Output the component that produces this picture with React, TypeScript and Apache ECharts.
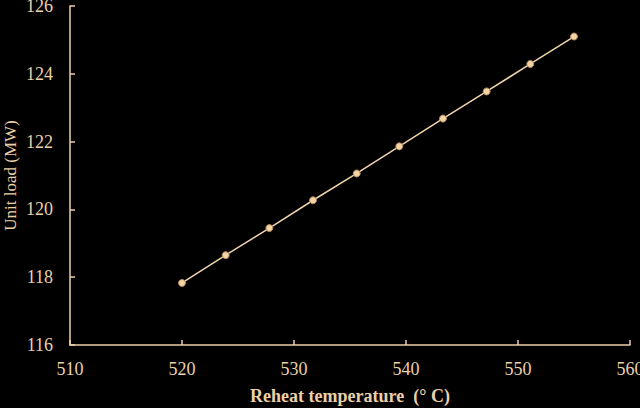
import React, { useEffect, useRef } from "react";
import * as echarts from "echarts";

const reheatTemps = [520, 523.9, 527.8, 531.7, 535.6, 539.4, 543.3, 547.2, 551.1, 555];
const unitLoads = [117.83, 118.65, 119.45, 120.27, 121.06, 121.86, 122.68, 123.48, 124.29, 125.1];
const xTicks = [510, 520, 530, 540, 550, 560];
const yTicks = [116, 118, 120, 122, 124, 126];

const FG = "#ecd0a8";
const FONT = "'Liberation Serif', 'Times New Roman', serif";

export default function App() {
  const ref = useRef<HTMLDivElement>(null);
  useEffect(() => {
    if (!ref.current) return;
    const chart = echarts.init(ref.current, undefined, { renderer: "svg" });
    chart.setOption({
      animation: false,
      backgroundColor: "#000000",
      grid: { left: 70, right: 10, top: 6, bottom: 63, containLabel: false, outerBoundsMode: "none" },
      xAxis: {
        type: "value",
        min: xTicks[0],
        max: xTicks[xTicks.length - 1],
        interval: 10,
        name: "Reheat temperature  (° C)",
        nameLocation: "middle",
        nameGap: 42,
        nameMoveOverlap: false,
        nameTextStyle: { color: FG, fontFamily: FONT, fontSize: 18, fontWeight: "bold" },
        axisLine: { show: true, lineStyle: { color: FG, width: 1.5 } },
        axisTick: { show: true, inside: true, length: 5, lineStyle: { color: FG, width: 1.5 } },
        axisLabel: { color: FG, fontFamily: FONT, fontSize: 18, margin: 15 },
        splitLine: { show: false },
      },
      yAxis: {
        type: "value",
        min: yTicks[0],
        max: yTicks[yTicks.length - 1],
        interval: 2,
        name: "Unit load (MW)",
        nameLocation: "middle",
        nameGap: 51,
        nameMoveOverlap: false,
        nameTextStyle: { color: FG, fontFamily: FONT, fontSize: 17 },
        axisLine: { show: true, lineStyle: { color: FG, width: 1.5 } },
        axisTick: { show: true, inside: true, length: 5, lineStyle: { color: FG, width: 1.5 } },
        axisLabel: { color: FG, fontFamily: FONT, fontSize: 18, margin: 17 },
        splitLine: { show: false },
      },
      series: [
        {
          type: "line",
          data: reheatTemps.map((t, i) => [t, unitLoads[i]]),
          symbol: "circle",
          symbolSize: 7,
          showSymbol: true,
          lineStyle: { color: "#f0d4ac", width: 1.5 },
          itemStyle: { color: "#f4d4a4", borderColor: "#b08a5a", borderWidth: 1 },
        },
      ],
    });
    return () => chart.dispose();
  }, []);
  return <div ref={ref} style={{ width: 640, height: 408, position: "fixed", left: 0, top: 0 }} />;
}
